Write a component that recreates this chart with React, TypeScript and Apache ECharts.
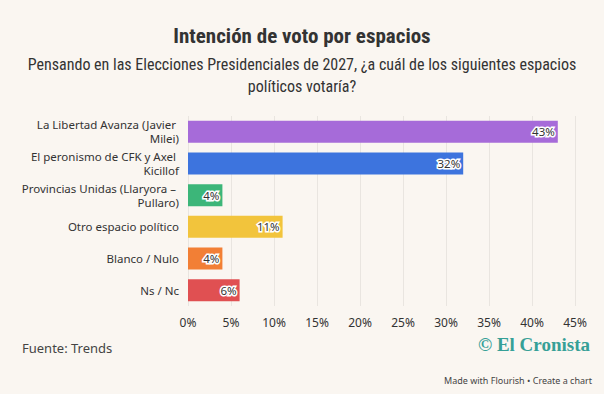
import React, { useEffect, useRef } from "react";
import * as echarts from "echarts";

const categories = [
  "La Libertad Avanza (Javier Milei)",
  "El peronismo de CFK y Axel Kicillof",
  "Provincias Unidas (Llaryora – Pullaro)",
  "Otro espacio político",
  "Blanco / Nulo",
  "Ns / Nc",
];
const values = [43, 32, 4, 11, 4, 6];
const colors = ["#a66bd9", "#3d74de", "#3cb679", "#f2c43c", "#f27f35", "#e05052"];
const xTicks = [0, 5, 10, 15, 20, 25, 30, 35, 40, 45];

const titleText = "Intención de voto por espacios";
const subtitleLines = [
  "Pensando en las Elecciones Presidenciales de 2027, ¿a cuál de los siguientes espacios",
  "políticos votaría?",
];
const sourceText = "Fuente: Trends";
const footerText = "Made with Flourish • Create a chart";

const condensed = "'Roboto Condensed', 'Liberation Sans Narrow', 'DejaVu Sans Condensed', Roboto, sans-serif";
const bodyFont = "'Noto Sans', 'Open Sans', sans-serif";

export default function App() {
  const ref = useRef<HTMLDivElement>(null);
  useEffect(() => {
    if (!ref.current) return;
    const chart = echarts.init(ref.current, undefined, { renderer: "svg" });
    chart.setOption({
      animation: false,
      backgroundColor: "#faf6f1",
      grid: { left: 188, right: 29, top: 116, bottom: 88, containLabel: false },
      xAxis: {
        type: "value",
        min: xTicks[0],
        max: xTicks[xTicks.length - 1],
        interval: 5,
        axisLine: { show: false },
        axisTick: { show: false },
        splitLine: { lineStyle: { color: "#e9e5e0", width: 1 } },
        axisLabel: {
          formatter: "{value}%",
          color: "#333",
          fontSize: 12,
          fontFamily: bodyFont,
          margin: 10,
        },
      },
      yAxis: {
        type: "category",
        inverse: true,
        data: categories,
        axisLine: { show: false },
        axisTick: { show: false },
        axisLabel: {
          color: "#333",
          fontSize: 11.5,
          fontFamily: bodyFont,
          margin: 9,
          width: 166,
          overflow: "break",
          lineHeight: 14,
          align: "right",
        },
      },
      series: [
        {
          type: "bar",
          data: values.map((v, i) => ({ value: v, itemStyle: { color: colors[i] } })),
          barWidth: 22,
          label: {
            show: true,
            position: "insideRight",
            distance: 3,
            formatter: "{c}%",
            color: "#333",
            fontSize: 11.5,
            fontFamily: bodyFont,
            textBorderColor: "#ffffff",
            textBorderWidth: 3,
          },
        },
      ],
      graphic: [
        {
          type: "text",
          x: 302,
          y: 25,
          style: {
            text: titleText,
            font: `bold 21px ${condensed}`,
            fill: "#333",
            align: "center",
          },
        },
        {
          type: "text",
          x: 302,
          y: 53,
          style: {
            text: subtitleLines.join("\n"),
            font: `16px ${condensed}`,
            fill: "#333",
            align: "center",
            lineHeight: 22,
          },
        },
        {
          type: "text",
          left: 22,
          top: 341,
          style: {
            text: sourceText,
            font: `13px ${bodyFont}`,
            fill: "#444",
          },
        },
        {
          type: "text",
          right: 14,
          top: 335,
          style: {
            text: "© El Cronista",
            font: `bold 19px 'Liberation Serif', 'DejaVu Serif', serif`,
            fill: "#36a097",
          },
        },
        {
          type: "text",
          right: 12,
          top: 376,
          style: {
            text: footerText,
            font: `9px ${bodyFont}`,
            fill: "#444",
          },
        },
      ],
    });
    return () => chart.dispose();
  }, []);
  return (
    <div
      ref={ref}
      style={{ position: "fixed", left: 0, top: 0, width: 604, height: 394 }}
    />
  );
}
